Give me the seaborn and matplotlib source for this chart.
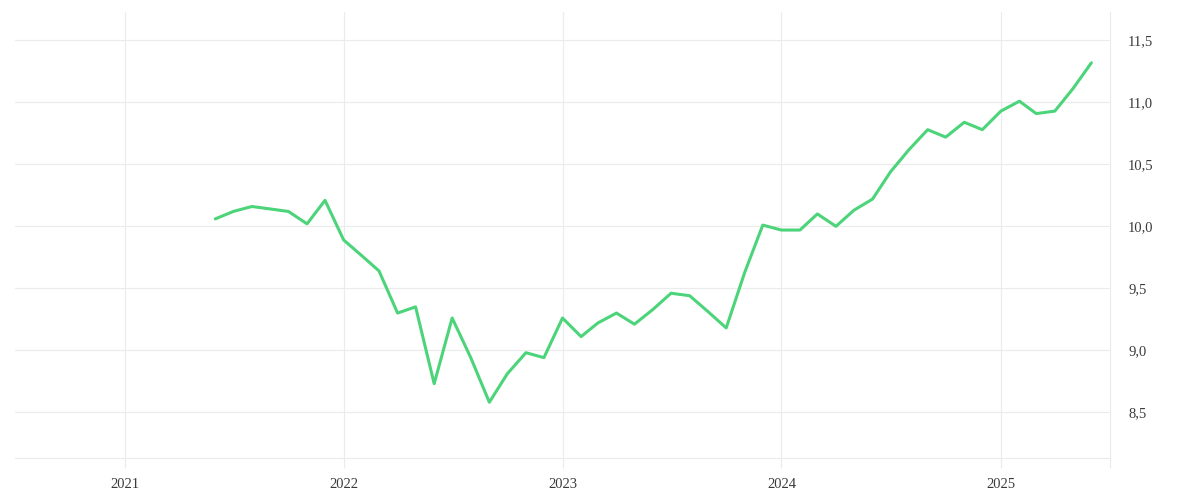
import numpy as np
import pandas as pd
import matplotlib
matplotlib.use('Agg')
import matplotlib.pyplot as plt
import matplotlib.dates as mdates
from matplotlib.ticker import FuncFormatter, FixedLocator
import seaborn as sns

# monthly values, Jun 2021 .. Jun 2025
months = pd.date_range('2021-06-01', '2025-06-01', freq='MS')
values = [
    10.06, 10.12, 10.16, 10.14, 10.12, 10.02, 10.21,                                 # 2021 Jun-Dec
    9.89, 9.76, 9.64, 9.30, 9.35, 8.73, 9.26, 8.94, 8.58, 8.81, 8.98, 8.94,         # 2022
    9.26, 9.11, 9.22, 9.30, 9.21, 9.33, 9.46, 9.44, 9.31, 9.18, 9.63, 10.01,        # 2023
    9.97, 9.97, 10.10, 10.00, 10.13, 10.22, 10.44, 10.62, 10.78, 10.72, 10.84, 10.78,  # 2024
    10.93, 11.01, 10.91, 10.93, 11.11, 11.32,                                         # 2025 Jan-Jun
]
year_ticks = ['2021-01-01', '2022-01-01', '2023-01-01', '2024-01-01', '2025-01-01']
y_ticks = [8.5, 9.0, 9.5, 10.0, 10.5, 11.0, 11.5]

df = pd.DataFrame({'date': months, 'value': values})

sns.set_style('white')
plt.rcParams['font.family'] = ['Liberation Serif', 'DejaVu Serif']

grid_c = '#ebebeb'
fig = plt.figure(figsize=(12, 5), dpi=100)
ax = fig.add_axes([15/1200, 42/500, 1095/1200, 446/500])

sns.lineplot(data=df, x='date', y='value', ax=ax, color='#4cd47a', linewidth=2.2)

ax.set_xlim(pd.Timestamp('2020-07-02'), pd.Timestamp('2025-07-02'))
ax.set_ylim(8.13, 11.73)

ax.set_xticks(pd.to_datetime(year_ticks))
ax.xaxis.set_major_formatter(mdates.DateFormatter('%Y'))
ax.xaxis.set_minor_locator(FixedLocator([mdates.date2num(pd.Timestamp('2025-07-02'))]))
ax.tick_params(axis='x', which='both', bottom=True, length=7.2, width=0.8, color=grid_c,
               pad=7, labelsize=10.5, labelcolor='#3a3a3a')

ax.yaxis.tick_right()
ax.set_yticks(y_ticks)
ax.yaxis.set_major_formatter(FuncFormatter(lambda v, p: f'{v:.1f}'.replace('.', ',')))
ax.tick_params(axis='y', length=0, pad=13, labelsize=10.5, labelcolor='#3a3a3a')

ax.grid(True, color=grid_c, linewidth=0.8)
for s in ['left', 'top']:
    ax.spines[s].set_visible(False)
for s in ['right', 'bottom']:
    ax.spines[s].set_color(grid_c)
    ax.spines[s].set_linewidth(0.8)

ax.set_xlabel('')
ax.set_ylabel('')

fig.savefig('out.png', dpi=100)
